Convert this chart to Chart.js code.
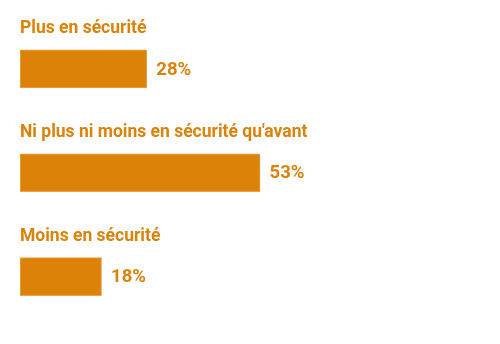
<!DOCTYPE html>
<html>
<head>
<meta charset="utf-8">
<script src="https://cdn.jsdelivr.net/npm/chart.js@4"></script>
<style>
  html, body { margin: 0; padding: 0; background: #fff; }
  #wrap { width: 500px; height: 344px; position: relative; }
</style>
</head>
<body>
<div id="wrap"><canvas id="securityChart"></canvas></div>
<script>
const categories = ["Plus en sécurité", "Ni plus ni moins en sécurité qu'avant", "Moins en sécurité"];
const values = [28, 53, 18];

const orange = "#dc8209";

// category names above the bars, percentages to the right
const barLabels = {
    id: "barLabels",
    afterDatasetsDraw(chart) {
        const ctx = chart.ctx;
        const meta = chart.getDatasetMeta(0);
        ctx.save();
        ctx.fillStyle = orange;
        meta.data.forEach((bar, i) => {
            const top = bar.y - bar.height / 2;
            ctx.font = "bold 17.5px Roboto, sans-serif";
            ctx.textAlign = "left";
            ctx.textBaseline = "alphabetic";
            ctx.fillText(categories[i], chart.chartArea.left, top - 17);

            ctx.font = "bold 18.5px Roboto, sans-serif";
            ctx.textBaseline = "middle";
            ctx.fillText(values[i] + "%", bar.x + 9.5, bar.y + 1);
        });
        ctx.restore();
    }
};

const ctx = document.getElementById("securityChart").getContext("2d");
new Chart(ctx, {
    type: "bar",
    data: {
        labels: categories,
        datasets: [{
            data: values,
            backgroundColor: orange,
            borderColor: "#eaa347",
            borderWidth: 1,
            borderSkipped: false,
            barThickness: 38
        }]
    },
    options: {
        indexAxis: "y",
        responsive: true,
        maintainAspectRatio: false,
        animation: false,
        layout: { padding: { left: 20, right: 27, top: 17, bottom: 15.5 } },
        scales: {
            x: { display: false, min: 0, max: 100 },
            y: { display: false }
        },
        plugins: {
            legend: { display: false },
            tooltip: { enabled: false }
        }
    },
    plugins: [barLabels]
});
</script>
</body>
</html>
